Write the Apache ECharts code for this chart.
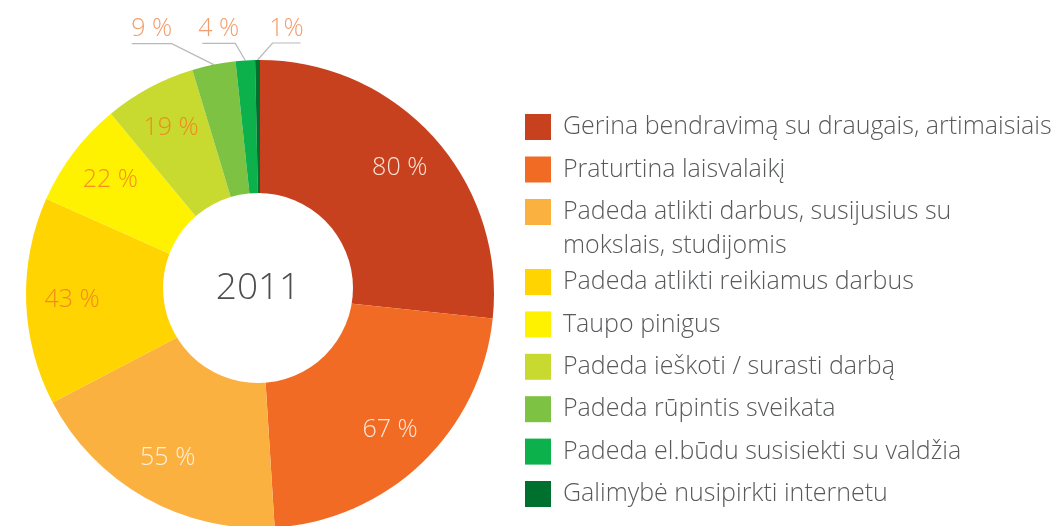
<!DOCTYPE html>
<html>
<head>
<meta charset="utf-8">
<script src="https://cdn.jsdelivr.net/npm/echarts@6/dist/echarts.min.js"></script>
<style>
  html, body { margin: 0; padding: 0; background: #fff; }
  #chart { width: 1057px; height: 526px; }
</style>
</head>
<body>
<div id="chart"></div>
<script>
// duomenys
const names = [
  'Gerina bendravimą su draugais, artimaisiais',
  'Praturtina laisvalaikį',
  'Padeda atlikti darbus, susijusius su\nmokslais, studijomis',
  'Padeda atlikti reikiamus darbus',
  'Taupo pinigus',
  'Padeda ieškoti / surasti darbą',
  'Padeda rūpintis sveikata',
  'Padeda el.būdu susisiekti su valdžia',
  'Galimybė nusipirkti internetu'
]
const values = [80, 67, 55, 43, 22, 19, 9, 4, 1]
const labelTexts = ['80 %', '67 %', '55 %', '43 %', '22 %', '19 %', '9 %', '4 %', '1%']
const yearLabel = '2011'

const colors = ['#c8411f', '#f26b24', '#fbb140', '#ffd400', '#fff200', '#c8d92f', '#7dc242', '#0db14b', '#00702f']
const labelColors = ['#fbe3d6', '#fde6d8', '#fdf0dc', '#f08a22', '#f5901e', '#f08a22', '#f39c6c', '#f39c6c', '#f39c6c']
// leader line shape for the outside labels (offsets from the slice edge)
const leader = { 6: { dx: -42, dy: -21, len: -40 }, 7: { dx: -10, dy: -17, len: -33 }, 8: { dx: 15, dy: -17, len: 28 } }

const font = "'Open Sans', 'DejaVu Sans', sans-serif"
const legendText = { fontFamily: font, fontWeight: 300, fontSize: 25, lineHeight: 26, color: '#58595b', padding: [0, 0, 0, 7] }
const chart = echarts.init(document.getElementById('chart'))

const pieData = names.map((n, i) => ({ name: n, value: values[i], itemStyle: { color: colors[i] } }))
const labelData = names.map((n, i) => {
  const outside = !!leader[i]
  return {
    name: n,
    value: values[i],
    label: {
      position: outside ? 'outside' : 'inside',
      formatter: labelTexts[i],
      color: labelColors[i]
    },
    labelLine: { show: outside }
  }
})

const option = {
  animation: false,
  legend: [
    {
      orient: 'vertical',
      left: 520,
      top: 109,
      itemWidth: 26,
      itemHeight: 26,
      itemGap: 16.5,
      icon: 'rect',
      selectedMode: false,
      data: names.slice(0, 3),
      formatter: n => n.split('\n')[0],
      textStyle: legendText
    },
    {
      orient: 'vertical',
      left: 520,
      top: 264,
      itemWidth: 26,
      itemHeight: 26,
      itemGap: 16.4,
      icon: 'rect',
      selectedMode: false,
      data: names.slice(3),
      textStyle: legendText
    }
  ],
  graphic: [
    {
      type: 'text',
      x: 563,
      y: 246,
      style: {
        text: names[2].split('\n')[1],
        font: '300 25px ' + font,
        fill: '#58595b',
        verticalAlign: 'middle'
      }
    }
  ],
  series: [
    {
      type: 'pie',
      center: [260, 294],
      radius: [0, 234],
      startAngle: 90,
      clockwise: true,
      silent: true,
      label: { show: false },
      labelLine: { show: false },
      data: pieData
    },
    {
      // baltas vidurys su metais
      type: 'pie',
      center: [258, 288],
      radius: [0, 95],
      silent: true,
      itemStyle: { color: '#fff' },
      label: {
        show: true,
        position: 'center',
        formatter: '{b}',
        fontFamily: font,
        fontWeight: 300,
        fontSize: 37,
        color: '#4d4d4d'
      },
      data: [{ name: yearLabel, value: 1 }]
    },
    {
      // procentų etiketės
      type: 'pie',
      center: [260, 294],
      radius: [136, 234],
      startAngle: 90,
      clockwise: true,
      silent: true,
      avoidLabelOverlap: false,
      itemStyle: { color: 'rgba(0,0,0,0)' },
      label: { show: true, fontFamily: font, fontWeight: 300, fontSize: 25 },
      labelLine: { length: 10, length2: 10, lineStyle: { color: '#b9b9b9', width: 1.2 } },
      labelLayout: function (params) {
        const l = leader[params.dataIndex]
        if (!l || !params.labelLinePoints) return {}
        const p0 = params.labelLinePoints[0]
        const knee = [p0[0] + l.dx, p0[1] + l.dy]
        const end = [knee[0] + l.len, knee[1]]
        return {
          x: (knee[0] + end[0]) / 2,
          y: knee[1] - 2,
          align: 'center',
          verticalAlign: 'bottom',
          labelLinePoints: [p0, knee, end]
        }
      },
      data: labelData
    }
  ]
}

chart.setOption(option)
</script>
</body>
</html>
